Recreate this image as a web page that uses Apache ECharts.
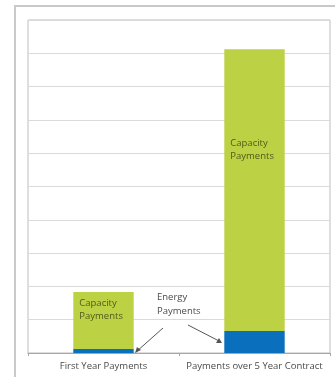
<!DOCTYPE html>
<html>
<head>
<meta charset="utf-8">
<script src="https://cdn.jsdelivr.net/npm/echarts@6/dist/echarts.min.js"></script>
<style>
  html, body { margin: 0; padding: 0; background: #fff; }
  #chart { width: 335px; height: 377px; }
</style>
</head>
<body>
<div id="chart"></div>
<script>
  var categories = ['First Year Payments', 'Payments over 5 Year Contract'];
  var energyPayments = [0.12, 0.66];
  var capacityPayments = [1.71, 8.46];
  var yMax = 10;
  var yStep = 1;

  var textColor = '#4a4a4a';
  var font = 'Open Sans';

  var myChart = echarts.init(document.getElementById('chart'), null, { renderer: 'canvas' });

  var option = {
    animation: false,
    grid: {
      left: 28, right: 5, top: 20, bottom: 24,
      show: true,
      borderColor: '#bdbdbd',
      borderWidth: 1
    },
    xAxis: {
      type: 'category',
      data: categories,
      axisLine: { lineStyle: { color: '#a6a6a6' } },
      axisTick: { show: true, length: 3, lineStyle: { color: '#a6a6a6' } },
      axisLabel: { interval: 0, color: textColor, fontSize: 9.5, fontFamily: font, margin: 8 }
    },
    yAxis: {
      type: 'value',
      min: 0, max: yMax, interval: yStep,
      axisLabel: { show: false },
      axisLine: { show: false },
      axisTick: { show: false },
      splitLine: { lineStyle: { color: '#dadada', width: 1 } }
    },
    series: [
      {
        name: 'Energy Payments',
        type: 'bar',
        stack: 'pay',
        barWidth: '40%',
        itemStyle: { color: '#0a70bd' },
        data: energyPayments
      },
      {
        name: 'Capacity Payments',
        type: 'bar',
        stack: 'pay',
        itemStyle: { color: '#bdd144' },
        label: {
          show: true,
          formatter: 'Capacity\nPayments',
          color: '#4f5a1a',
          fontSize: 9.5,
          fontFamily: font,
          lineHeight: 13,
          align: 'left'
        },
        data: capacityPayments.map(function (v, i) {
          return {
            value: v,
            label: { position: i === 0 ? [6, 5] : [6, 87] }
          };
        })
      }
    ],
    graphic: [
      {
        type: 'rect',
        shape: { x: 15, y: 6, width: 330, height: 380 },
        style: { fill: 'none', stroke: '#c9c9c9', lineWidth: 2 },
        silent: true
      },
      {
        type: 'text',
        left: 157, top: 290,
        style: {
          text: 'Energy\nPayments',
          fill: textColor,
          font: '9.5px "Open Sans"',
          lineHeight: 14,
          align: 'center'
        }
      },
      {
        type: 'line',
        shape: { x1: 163, y1: 328, x2: 136, y2: 352 },
        style: { stroke: '#555', lineWidth: 1 }
      },
      {
        type: 'polygon',
        shape: { points: [[135, 353], [137, 347], [141, 350]] },
        style: { fill: '#555' }
      },
      {
        type: 'line',
        shape: { x1: 188, y1: 325, x2: 221, y2: 342 },
        style: { stroke: '#555', lineWidth: 1 }
      },
      {
        type: 'polygon',
        shape: { points: [[222, 343], [216, 343], [219, 338]] },
        style: { fill: '#555' }
      }
    ]
  };

  myChart.setOption(option);
</script>
</body>
</html>
